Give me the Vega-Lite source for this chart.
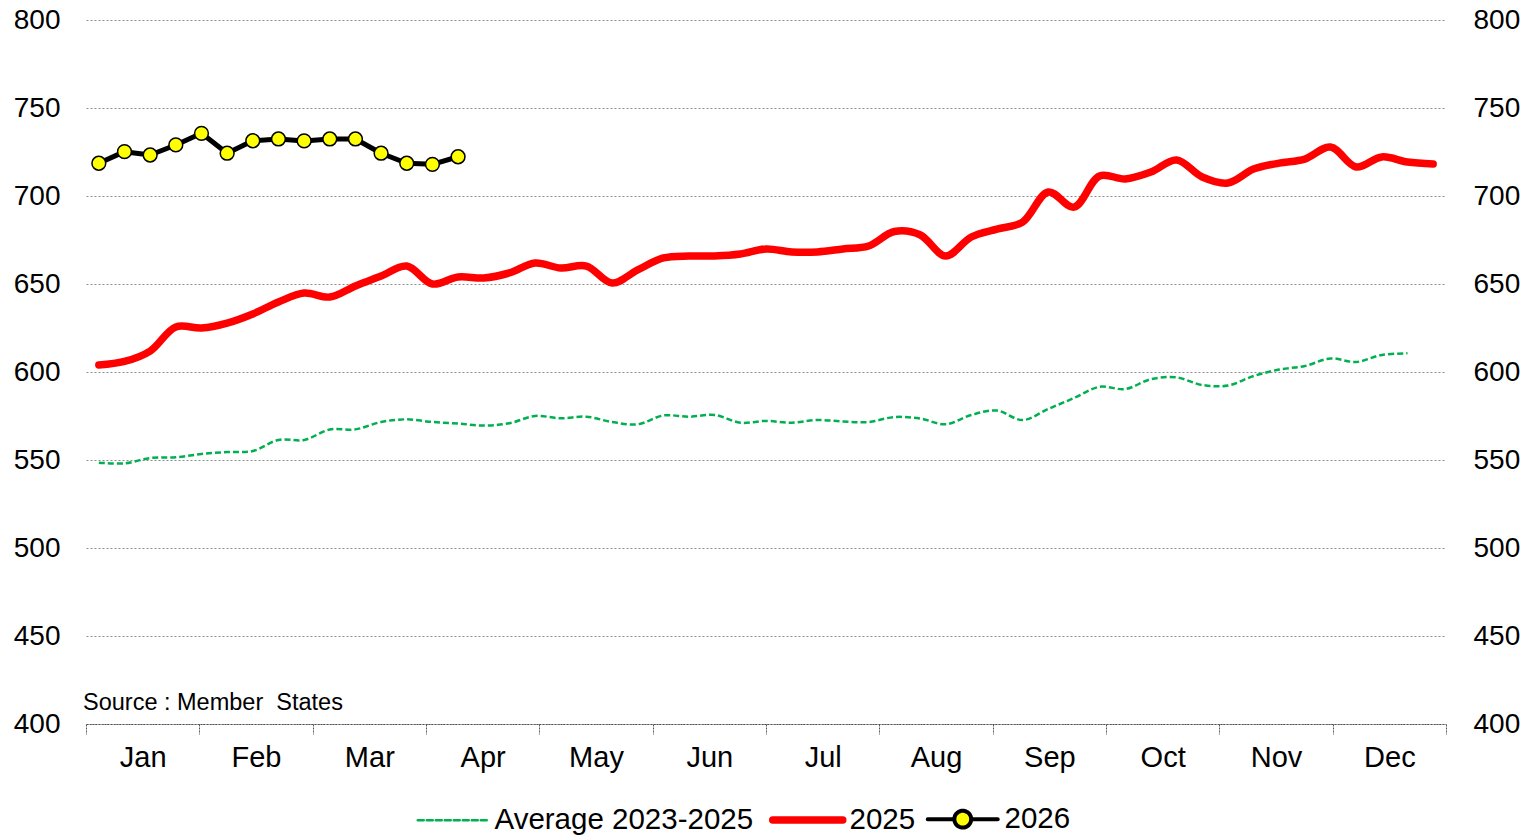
{
  "$schema": "https://vega.github.io/schema/vega-lite/v6.json",
  "autosize": "none",
  "width": 1360,
  "height": 704,
  "padding": {"left": 86, "top": 20, "right": 83, "bottom": 111},
  "background": "white",
  "config": {
    "view": {"stroke": null},
    "font": "Liberation Sans",
    "axis": {"labelFont": "Liberation Sans", "labelColor": "#000000"},
    "legend": {"labelFont": "Liberation Sans"}
  },
  "datasets": {
    "main": [
      {"week": 1, "series": "Average 2023-2025", "value": 548.5},
      {"week": 2, "series": "Average 2023-2025", "value": 548.1},
      {"week": 3, "series": "Average 2023-2025", "value": 551.1},
      {"week": 4, "series": "Average 2023-2025", "value": 551.5},
      {"week": 5, "series": "Average 2023-2025", "value": 553.4},
      {"week": 6, "series": "Average 2023-2025", "value": 554.5},
      {"week": 7, "series": "Average 2023-2025", "value": 555.1},
      {"week": 8, "series": "Average 2023-2025", "value": 561.4},
      {"week": 9, "series": "Average 2023-2025", "value": 561.4},
      {"week": 10, "series": "Average 2023-2025", "value": 567.3},
      {"week": 11, "series": "Average 2023-2025", "value": 567.4},
      {"week": 12, "series": "Average 2023-2025", "value": 571.6},
      {"week": 13, "series": "Average 2023-2025", "value": 573.1},
      {"week": 14, "series": "Average 2023-2025", "value": 571.6},
      {"week": 15, "series": "Average 2023-2025", "value": 570.7},
      {"week": 16, "series": "Average 2023-2025", "value": 569.6},
      {"week": 17, "series": "Average 2023-2025", "value": 570.9},
      {"week": 18, "series": "Average 2023-2025", "value": 575.0},
      {"week": 19, "series": "Average 2023-2025", "value": 573.7},
      {"week": 20, "series": "Average 2023-2025", "value": 574.6},
      {"week": 21, "series": "Average 2023-2025", "value": 571.6},
      {"week": 22, "series": "Average 2023-2025", "value": 570.3},
      {"week": 23, "series": "Average 2023-2025", "value": 575.3},
      {"week": 24, "series": "Average 2023-2025", "value": 574.6},
      {"week": 25, "series": "Average 2023-2025", "value": 575.6},
      {"week": 26, "series": "Average 2023-2025", "value": 571.2},
      {"week": 27, "series": "Average 2023-2025", "value": 572.2},
      {"week": 28, "series": "Average 2023-2025", "value": 571.2},
      {"week": 29, "series": "Average 2023-2025", "value": 572.7},
      {"week": 30, "series": "Average 2023-2025", "value": 571.9},
      {"week": 31, "series": "Average 2023-2025", "value": 571.6},
      {"week": 32, "series": "Average 2023-2025", "value": 574.4},
      {"week": 33, "series": "Average 2023-2025", "value": 573.6},
      {"week": 34, "series": "Average 2023-2025", "value": 570.3},
      {"week": 35, "series": "Average 2023-2025", "value": 575.6},
      {"week": 36, "series": "Average 2023-2025", "value": 578.1},
      {"week": 37, "series": "Average 2023-2025", "value": 572.7},
      {"week": 38, "series": "Average 2023-2025", "value": 579.0},
      {"week": 39, "series": "Average 2023-2025", "value": 585.2},
      {"week": 40, "series": "Average 2023-2025", "value": 591.6},
      {"week": 41, "series": "Average 2023-2025", "value": 590.3},
      {"week": 42, "series": "Average 2023-2025", "value": 595.9},
      {"week": 43, "series": "Average 2023-2025", "value": 596.9},
      {"week": 44, "series": "Average 2023-2025", "value": 592.6},
      {"week": 45, "series": "Average 2023-2025", "value": 592.3},
      {"week": 46, "series": "Average 2023-2025", "value": 597.7},
      {"week": 47, "series": "Average 2023-2025", "value": 601.4},
      {"week": 48, "series": "Average 2023-2025", "value": 603.4},
      {"week": 49, "series": "Average 2023-2025", "value": 607.7},
      {"week": 50, "series": "Average 2023-2025", "value": 605.7},
      {"week": 51, "series": "Average 2023-2025", "value": 609.7},
      {"week": 52, "series": "Average 2023-2025", "value": 610.6},
      {"week": 1, "series": "2025", "value": 604.0},
      {"week": 2, "series": "2025", "value": 606.0},
      {"week": 3, "series": "2025", "value": 611.9},
      {"week": 4, "series": "2025", "value": 625.6},
      {"week": 5, "series": "2025", "value": 625.0},
      {"week": 6, "series": "2025", "value": 627.8},
      {"week": 7, "series": "2025", "value": 633.0},
      {"week": 8, "series": "2025", "value": 639.8},
      {"week": 9, "series": "2025", "value": 644.9},
      {"week": 10, "series": "2025", "value": 642.6},
      {"week": 11, "series": "2025", "value": 648.9},
      {"week": 12, "series": "2025", "value": 654.5},
      {"week": 13, "series": "2025", "value": 660.2},
      {"week": 14, "series": "2025", "value": 650.0},
      {"week": 15, "series": "2025", "value": 654.0},
      {"week": 16, "series": "2025", "value": 653.4},
      {"week": 17, "series": "2025", "value": 656.3},
      {"week": 18, "series": "2025", "value": 661.9},
      {"week": 19, "series": "2025", "value": 659.1},
      {"week": 20, "series": "2025", "value": 660.2},
      {"week": 21, "series": "2025", "value": 650.6},
      {"week": 22, "series": "2025", "value": 658.0},
      {"week": 23, "series": "2025", "value": 664.8},
      {"week": 24, "series": "2025", "value": 665.9},
      {"week": 25, "series": "2025", "value": 665.9},
      {"week": 26, "series": "2025", "value": 667.0},
      {"week": 27, "series": "2025", "value": 669.9},
      {"week": 28, "series": "2025", "value": 668.2},
      {"week": 29, "series": "2025", "value": 668.2},
      {"week": 30, "series": "2025", "value": 669.9},
      {"week": 31, "series": "2025", "value": 671.6},
      {"week": 32, "series": "2025", "value": 679.8},
      {"week": 33, "series": "2025", "value": 678.0},
      {"week": 34, "series": "2025", "value": 665.9},
      {"week": 35, "series": "2025", "value": 676.7},
      {"week": 36, "series": "2025", "value": 681.2},
      {"week": 37, "series": "2025", "value": 685.2},
      {"week": 38, "series": "2025", "value": 702.3},
      {"week": 39, "series": "2025", "value": 693.7},
      {"week": 40, "series": "2025", "value": 711.4},
      {"week": 41, "series": "2025", "value": 709.7},
      {"week": 42, "series": "2025", "value": 713.6},
      {"week": 43, "series": "2025", "value": 720.5},
      {"week": 44, "series": "2025", "value": 710.8},
      {"week": 45, "series": "2025", "value": 707.4},
      {"week": 46, "series": "2025", "value": 715.3},
      {"week": 47, "series": "2025", "value": 718.7},
      {"week": 48, "series": "2025", "value": 721.0},
      {"week": 49, "series": "2025", "value": 727.8},
      {"week": 50, "series": "2025", "value": 716.5},
      {"week": 51, "series": "2025", "value": 722.2},
      {"week": 52, "series": "2025", "value": 719.3},
      {"week": 53, "series": "2025", "value": 718.2},
      {"week": 1, "series": "2026", "value": 718.6},
      {"week": 2, "series": "2026", "value": 725.2},
      {"week": 3, "series": "2026", "value": 723.3},
      {"week": 4, "series": "2026", "value": 729.0},
      {"week": 5, "series": "2026", "value": 735.6},
      {"week": 6, "series": "2026", "value": 724.3},
      {"week": 7, "series": "2026", "value": 731.4},
      {"week": 8, "series": "2026", "value": 732.4},
      {"week": 9, "series": "2026", "value": 731.3},
      {"week": 10, "series": "2026", "value": 732.4},
      {"week": 11, "series": "2026", "value": 732.4},
      {"week": 12, "series": "2026", "value": 724.3},
      {"week": 13, "series": "2026", "value": 718.6},
      {"week": 14, "series": "2026", "value": 718.0},
      {"week": 15, "series": "2026", "value": 722.3}
    ]
  },
  "data": {"name": "main"},
  "resolve": {"axis": {"y": "independent"}},
  "layer": [
    {
      "transform": [{"filter": "datum.series === 'Average 2023-2025'"}],
      "mark": {"type": "line", "interpolate": "catmull-rom", "strokeWidth": 2.5, "strokeDash": [6, 3]},
      "encoding": {
        "x": {
          "field": "week", "type": "quantitative",
          "scale": {"domain": [0.5, 53.5], "nice": false, "zero": false},
          "axis": {
            "title": null,
            "values": [0.5, 4.916667, 9.333333, 13.75, 18.166667, 22.583333, 27, 31.416667, 35.833333, 40.25, 44.666667, 49.083333, 53.5],
            "labelExpr": "['Jan','Feb','Mar','Apr','May','Jun','Jul','Aug','Sep','Oct','Nov','Dec',''][round((datum.value-0.5)*12/53)]",
            "labelOffset": 56.67,
            "labelAlign": "center",
            "labelFlush": false,
            "labelOverlap": false,
            "labelBound": false,
            "labelFontSize": 29,
            "labelPadding": 9,
            "tickSize": 10,
            "tickColor": "#555555",
            "tickDash": [2, 1],
            "domainColor": "#555555",
            "domainDash": [2, 1],
            "grid": false
          }
        },
        "y": {
          "field": "value", "type": "quantitative",
          "scale": {"domain": [400, 800], "nice": false, "zero": false},
          "axis": {
            "title": null,
            "orient": "left",
            "values": [400, 450, 500, 550, 600, 650, 700, 750, 800],
            "labelFontSize": 28,
            "labelPadding": 26,
            "ticks": false,
            "domain": false,
            "grid": true,
            "gridColor": "#8c8c8c",
            "gridDash": [2, 2],
            "gridWidth": 1
          }
        },
        "color": {
          "field": "series", "type": "nominal",
          "scale": {"domain": ["Average 2023-2025", "2025", "2026"], "range": ["#00B050", "#FF0000", "#000000"]},
          "legend": {
            "title": null,
            "orient": "none",
            "legendX": 352,
            "legendY": 784,
            "direction": "horizontal",
            "padding": 0,
            "symbolType": "stroke",
            "symbolSize": 4900,
            "labelFontSize": 29.5,
            "labelLimit": 500,
            "labelColor": "#000000",
            "labelOffset": 27,
            "columnPadding": 3,
            "encode": {
              "symbols": {
                "update": {
                  "shape": {"signal": "datum.value === '2026' ? 'M-1,0L-0.24,0M0.24,0L1,0M-0.24,0A0.24,0.24,0,1,1,0.24,0A0.24,0.24,0,1,1,-0.24,0Z' : 'stroke'"},
                  "strokeWidth": {"signal": "datum.value === '2025' ? 7.5 : (datum.value === '2026' ? 4 : 2.5)"},
                  "strokeDash": {"signal": "datum.value === 'Average 2023-2025' ? [6, 3] : [1, 0]"},
                  "fill": {"signal": "datum.value === '2026' ? '#FFFF00' : 'transparent'"},
                  "fillOpacity": {"value": 1},
                  "strokeCap": {"value": "round"}
                }
              }
            }
          }
        }
      }
    },
    {
      "transform": [{"filter": "datum.series === '2025'"}],
      "mark": {"type": "line", "interpolate": "catmull-rom", "strokeWidth": 7.5, "strokeCap": "round", "strokeJoin": "round"},
      "encoding": {
        "x": {"field": "week", "type": "quantitative"},
        "y": {
          "field": "value", "type": "quantitative",
          "axis": {
            "title": null,
            "orient": "right",
            "values": [400, 450, 500, 550, 600, 650, 700, 750, 800],
            "labelFontSize": 28,
            "labelPadding": 27,
            "ticks": false,
            "domain": false,
            "grid": false
          }
        },
        "color": {"field": "series", "type": "nominal"}
      }
    },
    {
      "transform": [{"filter": "datum.series === '2026'"}],
      "mark": {"type": "line", "strokeWidth": 5, "strokeJoin": "round"},
      "encoding": {
        "x": {"field": "week", "type": "quantitative"},
        "y": {"field": "value", "type": "quantitative", "axis": null},
        "color": {"field": "series", "type": "nominal"}
      }
    },
    {
      "transform": [{"filter": "datum.series === '2026'"}],
      "mark": {"type": "point", "shape": "circle", "filled": true, "fill": "#FFFF00", "stroke": "#000000", "strokeWidth": 1.5, "size": 190, "opacity": 1},
      "encoding": {
        "x": {"field": "week", "type": "quantitative"},
        "y": {"field": "value", "type": "quantitative", "axis": null}
      }
    },
    {
      "data": {"values": [{"label": "Source : Member\u00a0 States"}]},
      "mark": {"type": "text", "align": "left", "baseline": "alphabetic", "fontSize": 23.5, "dx": -3, "color": "#000000"},
      "encoding": {
        "x": {"datum": 0.5, "type": "quantitative"},
        "y": {"datum": 408, "type": "quantitative", "axis": null},
        "text": {"field": "label"}
      }
    }
  ]
}
